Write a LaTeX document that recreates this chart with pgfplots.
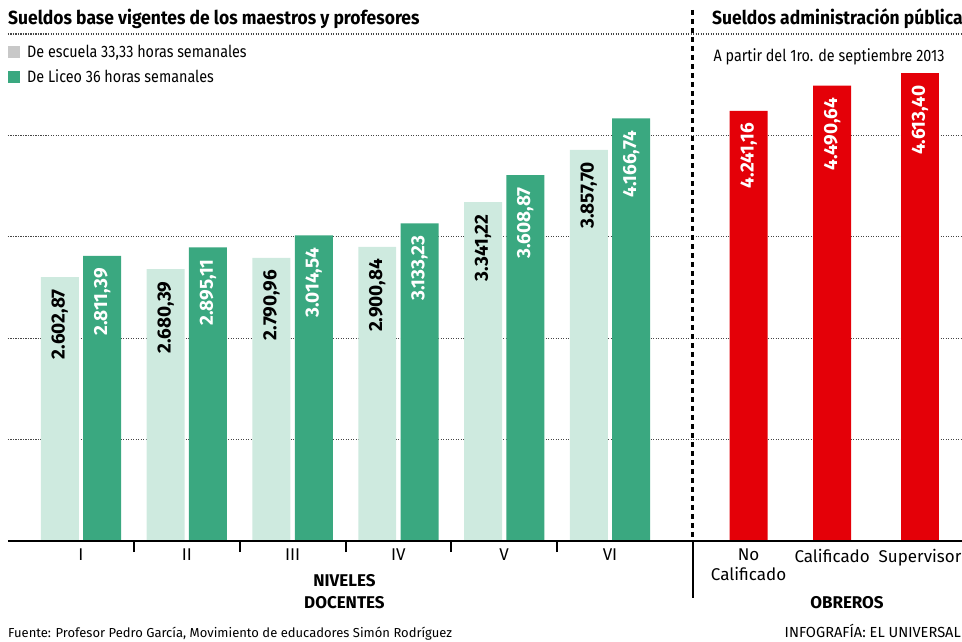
\documentclass[border=0pt]{standalone}
\usepackage{fontspec}
\setmainfont{Fira Sans}
\newfontfamily\condfont{Fira Sans}[FakeStretch=0.87]
\newfontfamily\titlefont{Fira Sans}[FakeStretch=0.92]
\usepackage{pgfplots}
\pgfplotsset{compat=1.18}
\definecolor{lightg}{RGB}{206,234,223}
\definecolor{darkg}{RGB}{58,168,128}
\definecolor{redb}{RGB}{228,0,8}
\definecolor{gridc}{RGB}{70,70,70}
\definecolor{leggrey}{RGB}{200,200,200}
\begin{document}
\begin{tikzpicture}[x=1pt,y=1pt]
\path[use as bounding box] (0,0) rectangle (962,641);
\begin{axis}[
  at={(8pt,100pt)}, anchor=south west,
  scale only axis, width=954pt, height=507pt,
  xmin=-0.690, xmax=8.327, ymin=0, ymax=5000,
  clip=false,
  axis line style={draw=none},
  ybar, bar width=0.359,
  ytick={1000,2000,3000,4000,5000}, yticklabels={},
  ymajorgrids, grid style={gridc, line width=1.2pt, dash pattern=on 1.1pt off 1.4pt},
  major tick length=0pt,
  xtick pos=bottom, ytick pos=left,
  xtick={0,1,2,3,4,5,6.31,7.10,7.93},
  xticklabels={I,II,III,IV,V,VI,{No\\Calificado},Calificado,Supervisor},
  xticklabel style={anchor=north, inner sep=0pt, yshift=-8pt, align=center, font=\fontsize{17}{20}\selectfont},
  extra x ticks={0.5,1.5,2.5,3.5,4.5}, extra x tick labels={},
  extra x tick style={major tick length=11pt, tick align=outside, tick style={black,line width=2pt}},
  nodes near coords,
  /pgf/number format/fixed,
  /pgf/number format/fixed zerofill,
  /pgf/number format/precision=2,
  /pgf/number format/1000 sep={.},
  /pgf/number format/dec sep={,},
  /pgf/number format/assume math mode=true,
  every node near coord/.append style={rotate=90, anchor=east, inner xsep=12pt, font=\bfseries\fontsize{19}{22}\selectfont},
]
\addplot[fill=lightg, draw=none, bar shift=-0.2, every node near coord/.append style={text=black}]
  coordinates {(0,2602.87) (1,2680.39) (2,2790.96) (3,2900.84) (4,3341.22) (5,3857.70)};
\addplot[fill=darkg, draw=none, bar shift=0.2, every node near coord/.append style={text=white}]
  coordinates {(0,2811.39) (1,2895.11) (2,3014.54) (3,3133.23) (4,3608.87) (5,4166.74)};
\addplot[fill=redb, draw=none, bar shift=0, every node near coord/.append style={text=white}]
  coordinates {(6.31,4241.16) (7.10,4490.64) (7.93,4613.40)};
\draw[line width=2pt] (rel axis cs:0,0) -- (rel axis cs:1,0);
\draw[line width=2.5pt, dash pattern=on 5pt off 4pt] (axis cs:5.78,5237) -- (axis cs:5.78,0);
\draw[line width=2pt] (axis cs:5.78,0) -- (axis cs:5.78,-562);
\node[font=\bfseries\fontsize{17}{22}\selectfont, align=center, anchor=north, inner sep=0pt] at (axis cs:2.49,-325) {NIVELES\\DOCENTES};
\node[font=\bfseries\fontsize{17}{22}\selectfont, anchor=north, inner sep=0pt] at (axis cs:7.24,-542) {OBREROS};
\end{axis}
\node[anchor=base west, inner sep=0pt, font=\titlefont\bfseries\fontsize{19}{22}\selectfont] at (8,616) {Sueldos base vigentes de los maestros y profesores};
\node[anchor=base west, inner sep=0pt, font=\titlefont\bfseries\fontsize{19}{22}\selectfont] at (712,616) {Sueldos administración pública};
\fill[leggrey] (8,583) rectangle (20,595);
\fill[darkg] (8,558) rectangle (20,570);
\node[anchor=base west, inner sep=0pt, font=\condfont\fontsize{16.5}{19}\selectfont] at (27,583) {De escuela 33,33 horas semanales};
\node[anchor=base west, inner sep=0pt, font=\condfont\fontsize{16.5}{19}\selectfont] at (27,558) {De Liceo 36 horas semanales};
\node[anchor=base, inner sep=0pt, font=\condfont\fontsize{16.5}{19}\selectfont] at (829,579) {A partir del 1ro. de septiembre 2013};
\node[anchor=base west, inner sep=0pt, font=\fontsize{13}{15}\selectfont] at (8,4) {Fuente: Profesor Pedro García, Movimiento de educadores Simón Rodríguez};
\node[anchor=base east, inner sep=0pt, font=\fontsize{14.6}{17}\selectfont] at (961,4) {INFOGRAFÍA: EL UNIVERSAL};
\end{tikzpicture}
\end{document}
